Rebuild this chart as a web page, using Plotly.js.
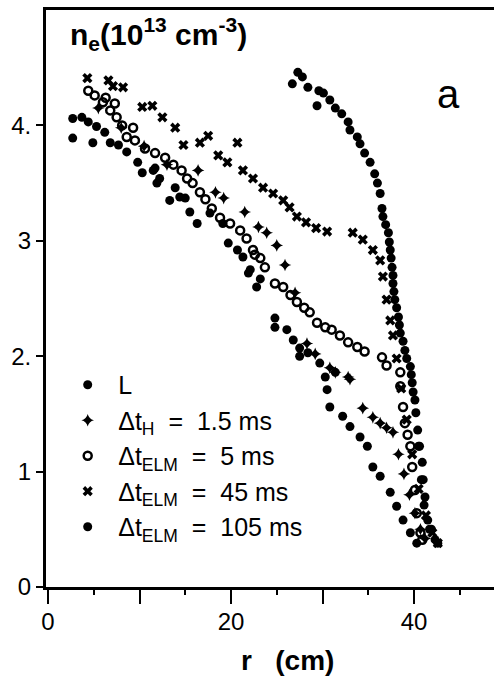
<!DOCTYPE html>
<html>
<head>
<meta charset="utf-8">
<script src="https://cdn.plot.ly/plotly-3.0.1.min.js"></script>
<style>html,body{margin:0;padding:0;background:#fff;}</style>
</head>
<body>
<div id="chart" style="width:494px;height:684px;"></div>
<script>
// L (filled dots)
const rL = [2.7, 2.7, 3.7, 4.4, 4.9, 5.3, 6.2, 6.8, 7.7, 8.6, 9.8, 10.3, 11.5, 11.7, 11.9, 12.2, 13.3, 13.9, 14.4, 15.0, 15.5, 16.3, 17.7, 19.1, 19.7, 20.7, 21.3, 21.9, 22.1, 22.8, 23.2, 24.8, 24.8, 26.1, 26.8, 27.5, 28.4, 27.5, 29.7, 30.3, 31.4, 30.5, 30.8, 32.2, 33.0, 34.1, 34.9, 35.5, 36.3, 37.4, 38.1, 38.8, 39.6, 40.3];
const nL = [4.06, 3.89, 4.07, 4.03, 3.85, 3.99, 3.94, 3.85, 3.83, 3.77, 3.68, 3.59, 3.61, 3.63, 3.50, 3.54, 3.35, 3.46, 3.38, 3.37, 3.25, 3.15, 3.24, 3.15, 2.98, 2.92, 2.86, 2.72, 2.75, 2.60, 2.67, 2.33, 2.25, 2.23, 2.14, 2.07, 2.03, 2.00, 1.94, 1.82, 1.86, 1.71, 1.56, 1.48, 1.39, 1.30, 1.22, 1.04, 0.96, 0.82, 0.70, 0.58, 0.47, 0.38];
// Delta t_H = 1.5 ms
const rH = [5.5, 8.0, 10.5, 13.0, 16.4, 18.3, 19.2, 21.5, 23.0, 23.9, 25.0, 25.9, 27.0, 28.3, 29.2, 30.8, 31.4, 32.8, 33.0, 34.4, 35.5, 36.3, 37.0, 37.7, 38.3, 38.9, 39.5, 40.1, 40.7, 41.2];
const nH = [4.15, 3.98, 3.82, 3.66, 3.61, 3.42, 3.37, 3.25, 3.12, 3.07, 2.96, 2.79, 2.55, 2.11, 2.02, 1.90, 1.86, 1.82, 1.80, 1.55, 1.47, 1.42, 1.38, 1.34, 1.15, 0.98, 0.80, 0.64, 0.50, 0.42];
// Delta t_ELM = 5 ms
const r5 = [4.4, 5.1, 6.3, 6.0, 7.3, 6.8, 7.5, 8.1, 9.3, 8.6, 9.5, 10.6, 11.7, 12.8, 13.7, 14.6, 15.2, 15.8, 16.6, 17.2, 17.9, 18.8, 19.9, 21.0, 21.7, 22.4, 22.6, 23.2, 23.7, 24.8, 25.7, 26.5, 27.2, 28.0, 28.6, 29.4, 30.3, 31.0, 31.9, 32.8, 33.8, 34.6, 36.5, 37.0, 38.5, 38.5, 38.8, 39.0, 39.3, 39.6, 39.8, 40.1, 40.3, 40.7, 40.9];
const n5 = [4.30, 4.26, 4.24, 4.20, 4.19, 4.13, 4.07, 4.00, 3.98, 3.90, 3.87, 3.80, 3.76, 3.72, 3.66, 3.61, 3.54, 3.50, 3.42, 3.36, 3.28, 3.20, 3.15, 3.09, 3.02, 2.92, 2.88, 2.85, 2.77, 2.63, 2.60, 2.53, 2.47, 2.42, 2.38, 2.29, 2.25, 2.23, 2.18, 2.12, 2.08, 2.04, 1.99, 1.92, 1.86, 1.74, 1.56, 1.42, 1.32, 1.22, 1.04, 0.84, 0.64, 0.47, 0.41];
// Delta t_ELM = 45 ms
const r45 = [4.3, 6.6, 7.1, 8.2, 10.3, 11.4, 12.5, 13.9, 14.8, 16.6, 17.5, 18.6, 19.6, 20.7, 21.3, 22.4, 23.5, 24.6, 25.7, 26.4, 27.2, 28.2, 29.3, 30.5, 33.3, 34.4, 35.5, 36.3, 36.6, 37.0, 37.4, 37.7, 38.1, 38.6, 39.2, 39.8, 40.5, 41.3, 42.0, 42.6];
const n45 = [4.41, 4.39, 4.34, 4.33, 4.16, 4.17, 4.07, 3.98, 3.83, 3.85, 3.91, 3.74, 3.68, 3.85, 3.61, 3.54, 3.46, 3.41, 3.35, 3.29, 3.21, 3.16, 3.11, 3.08, 3.07, 3.01, 2.92, 2.83, 2.69, 2.49, 2.31, 2.18, 1.98, 1.72, 1.45, 1.15, 0.85, 0.62, 0.47, 0.38];
// Delta t_ELM = 105 ms
const r105 = [26.7, 27.3, 27.8, 28.4, 29.4, 29.6, 30.1, 30.8, 31.4, 32.1, 32.8, 33.0, 33.8, 34.1, 34.6, 35.2, 35.7, 36.0, 36.3, 36.5, 36.6, 36.9, 37.2, 37.3, 37.4, 37.5, 37.6, 37.7, 37.7, 37.8, 37.9, 38.1, 38.3, 38.4, 38.5, 38.8, 39.0, 39.2, 39.6, 39.7, 39.8, 39.9, 40.1, 40.2, 40.4, 40.5, 40.6, 40.8, 40.9, 41.0, 41.1, 41.2, 41.5, 41.7, 41.9, 42.3, 42.6];
const n105 = [4.36, 4.46, 4.42, 4.33, 4.17, 4.30, 4.28, 4.22, 4.15, 4.10, 4.03, 3.96, 3.90, 3.84, 3.76, 3.68, 3.58, 3.50, 3.41, 3.28, 3.21, 3.14, 3.07, 2.99, 2.92, 2.85, 2.77, 2.70, 2.63, 2.56, 2.49, 2.42, 2.34, 2.27, 2.20, 2.13, 2.05, 1.98, 1.91, 1.84, 1.77, 1.69, 1.62, 1.51, 1.36, 1.22, 1.22, 0.93, 1.08, 0.93, 0.71, 0.78, 0.58, 0.50, 0.50, 0.41, 0.38];

const xTickVals = [0, 10, 20, 30, 40];
const xTickText = ['0', '', '20', '', '40'];
const xMinorVals = [5, 15, 25, 35, 45];
const yTickVals = [0, 1, 2, 3, 4];
const yTickText = ['0', '1', '2.', '3', '4.'];

const names = ['L', '\u0394t<sub>H</sub>\u00a0 =\u00a0 1.5 ms', '\u0394t<sub>ELM</sub>\u00a0 =\u00a0 5 ms', '\u0394t<sub>ELM</sub>\u00a0 =\u00a0 45 ms', '\u0394t<sub>ELM</sub>\u00a0 =\u00a0 105 ms'];

function tr(x, y, name, symbol, size, lw, g) {
  return {
    x: x, y: y, name: name, type: 'scatter', mode: 'markers', legendgroup: g,
    marker: {symbol: symbol, size: size, color: 'black', line: {color: 'black', width: lw}},
    hoverinfo: 'skip'
  };
}

const data = [
  tr(rL, nL, names[0], 'circle', 9, 0, 'a'),
  tr(rH, nH, names[1], 'star-diamond', 9, 0, 'b'),
  tr(r5, n5, names[2], 'circle-open', 8, 2.5, 'c'),
  tr(r45, n45, names[3], 'x', 9, 0, 'd'),
  tr(r105, n105, names[4], 'circle', 9, 0, 'e')
];

const font = 'Liberation Sans, Arial, Helvetica, sans-serif';

const layout = {
  width: 494, height: 684,
  margin: {l: 46, r: 0, t: 10, b: 97},
  paper_bgcolor: 'white', plot_bgcolor: 'white',
  font: {family: font, size: 24, color: 'black'},
  showlegend: true,
  legend: {x: 0.025, y: 0.39, xanchor: 'left', yanchor: 'top', bgcolor: 'rgba(0,0,0,0)',
           font: {family: font, size: 25, color: 'black'}, tracegroupgap: 0, itemwidth: 51},
  xaxis: {
    range: [-0.22, 48.74], tickvals: xTickVals, ticktext: xTickText,
    ticks: 'outside', ticklen: 14, tickwidth: 2, tickcolor: 'black',
    showline: true, linewidth: 3, linecolor: 'black', mirror: true,
    showgrid: false, zeroline: false, ticklabelstandoff: -3,
    minor: {tickvals: xMinorVals, ticks: 'outside', ticklen: 5, tickwidth: 2, tickcolor: 'black', showgrid: false},
    tickfont: {family: font, size: 24, color: 'black'}
  },
  yaxis: {
    range: [0, 5], tickvals: yTickVals, ticktext: yTickText,
    ticks: 'outside', ticklen: 7, tickwidth: 2, tickcolor: 'black',
    showline: true, linewidth: 3, linecolor: 'black',
    showgrid: false, zeroline: false,
    tickfont: {family: font, size: 24, color: 'black'}
  },
  annotations: [
    {text: '<b>n<sub>e</sub>(10<sup>13</sup> cm<sup>-3</sup>)</b>', xref: 'paper', yref: 'paper',
     x: 0.05, y: 0.999, xanchor: 'left', yanchor: 'top', showarrow: false,
     font: {family: font, size: 30, color: 'black'}},
    {text: 'a', xref: 'x', yref: 'y', x: 43.8, y: 4.27, xanchor: 'center', yanchor: 'middle',
     showarrow: false, font: {family: font, size: 40, color: 'black'}},
    {text: '<b>r&nbsp;&nbsp;&nbsp;(cm)</b>', xref: 'x', yref: 'paper', x: 26.2, y: -0.127, xanchor: 'center', yanchor: 'middle',
     showarrow: false, font: {family: font, size: 28, color: 'black'}}
  ]
};

Plotly.newPlot('chart', data, layout, {displayModeBar: false, staticPlot: true});
</script>
</body>
</html>
